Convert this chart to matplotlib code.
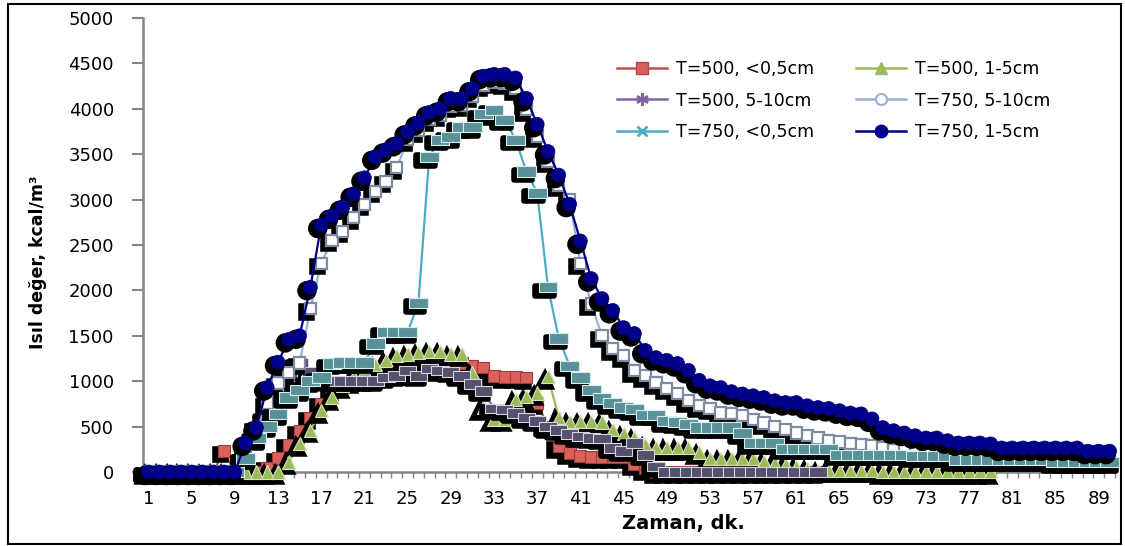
import numpy as np
import matplotlib
matplotlib.use("Agg")
import matplotlib.pyplot as plt
import matplotlib.patheffects as pe
from matplotlib.lines import Line2D
from matplotlib.patches import Rectangle
from matplotlib.path import Path

# time axis, minutes 1..90
minutes = np.arange(1, 91)

# values (kcal/m3); shorter series stop early
t500_05 = [0, 0, 0, 0, 0, 0, 0, 230, 0, 0,
           0, 50, 150, 300, 450, 600, 750, 850, 950, 1000,
           1050, 1100, 1140, 1150, 1130, 1140, 1180, 1190, 1220, 1200,
           1170, 1150, 1060, 1050, 1045, 1040, 760, 500, 280, 210,
           175, 165, 165, 165, 165, 90, 40, 0, 0, 0,
           0, 0, 0, 0, 0, 0, 0, 0, 0, 0,
           0, 0, 0]
t500_15 = [0, 0, 0, 0, 0, 0, 0, 0, 0, 0,
           0, 0, 0, 110, 310, 460, 675, 820, 950, 1050,
           1120, 1180, 1230, 1280, 1300, 1320, 1330, 1330, 1300, 1300,
           1100, 710, 580, 580, 800, 830, 870, 1050, 600, 560,
           560, 560, 550, 470, 420, 380, 300, 270, 270, 270,
           270, 220, 150, 150, 150, 150, 150, 120, 100, 80,
           60, 40, 20, 20, 20, 20, 20, 20, 5, 5,
           5, 5, 5, 5, 5, 5, 5, 5, 5]
t500_510 = [0, 0, 0, 0, 0, 0, 0, 0, 0, 150,
            350, 600, 850, 1050, 1200, 1100, 1050, 1000, 1000, 1000,
            1000, 1000, 1040, 1060, 1120, 1060, 1140, 1120, 1100, 1060,
            970, 890, 700, 690, 650, 600, 560, 500, 460, 420,
            390, 375, 370, 265, 230, 320, 190, 60, 0, 0,
            0, 0, 0, 0, 0, 0, 0, 0, 0, 0,
            0, 0, 0]
t750_510 = [0, 0, 0, 0, 0, 0, 0, 0, 0, 280,
            480, 760, 980, 1100, 1200, 1800, 2300, 2550, 2650, 2800,
            2950, 3090, 3200, 3350, 3660, 3760, 3880, 3930, 4030, 4040,
            4140, 4260, 4290, 4280, 4220, 3990, 3700, 3420, 3160, 3000,
            2300, 1850, 1500, 1360, 1280, 1115, 1060, 985, 920, 860,
            785, 730, 700, 650, 640, 620, 580, 540, 500, 470,
            430, 400, 375, 350, 330, 310, 300, 290, 270, 250,
            240, 230, 220, 210, 200, 190, 180, 170, 165, 160,
            160, 160, 160, 160, 160, 160, 160, 160, 160, 160]
t750_05 = [0, 0, 0, 0, 0, 0, 0, 0, 0, 150,
           375, 500, 640, 820, 900, 1000, 1040, 1195, 1205, 1205,
           1205, 1415, 1540, 1540, 1540, 1860, 3470, 3660, 3690, 3800,
           3800, 3940, 3990, 3880, 3660, 3310, 3075, 2035, 1470, 1170,
           1040, 900, 810, 760, 710, 695, 630, 630, 560, 550,
           530, 490, 490, 490, 490, 430, 320, 320, 320, 255,
           255, 255, 255, 255, 190, 190, 190, 190, 190, 190,
           190, 175, 175, 175, 175, 130, 130, 130, 130, 130,
           130, 130, 130, 130, 110, 110, 110, 110, 110, 110]
t750_15 = [0, 0, 0, 0, 0, 0, 0, 0, 0, 320,
           490, 930, 1210, 1460, 1500, 2035, 2720, 2820, 2920, 3064,
           3240, 3470, 3550, 3620, 3750, 3850, 3960, 4000, 4115, 4115,
           4225, 4360, 4380, 4380, 4340, 4115, 3830, 3530, 3270, 2950,
           2545, 2130, 1910, 1780, 1590, 1525, 1340, 1260, 1230, 1195,
           1120, 1010, 950, 930, 885, 860, 840, 820, 785, 765,
           765, 730, 710, 700, 675, 650, 640, 585, 490, 455,
           430, 400, 375, 375, 345, 320, 320, 320, 310, 265,
           265, 265, 265, 265, 265, 265, 265, 230, 230, 230]

labels = ["T=500, <0,5cm", "T=500, 1-5cm", "T=500, 5-10cm",
          "T=750, 5-10cm", "T=750, <0,5cm", "T=750, 1-5cm"]


def pad(vals):
    return np.array(list(vals) + [np.nan] * (90 - len(vals)), dtype=float)


series = [pad(t500_05), pad(t500_15), pad(t500_510),
          pad(t750_510), pad(t750_05), pad(t750_15)]

rect = Path([(-1, -0.55), (1, -0.55), (1, 0.55), (-1, 0.55), (-1, -0.55)],
            [Path.MOVETO, Path.LINETO, Path.LINETO, Path.LINETO, Path.CLOSEPOLY])

line_colors = ["#C0504D", "#9BBB59", "#8064A2", "#95B3D7", "#4BACC6", "#00008B"]
# how the markers look on the chart (with the heavy excel shadow)
plot_marks = [
    dict(marker="s", ms=8.5, mfc="#D9605B", mec="#A33C38", mew=0.8),
    dict(marker="^", ms=9.5, mfc="#9BBB59", mec="#D7E4BD", mew=0.8),
    dict(marker=rect, ms=12.5, mfc="#55506B", mec="#D9D2E6", mew=0.8),
    dict(marker="s", ms=8, mfc="white", mec="#7E8AA2", mew=1.6),
    dict(marker=rect, ms=13.5, mfc="#5A9198", mec="#D2EEF3", mew=0.8),
    dict(marker="o", ms=10, mfc="#00008B", mec="#00008B", mew=0.5),
]
# how the markers look in the legend
legend_marks = [
    dict(marker="s", ms=8, mfc="#D9605B", mec="#B04A46"),
    dict(marker="^", ms=9, mfc="#9BBB59", mec="#9BBB59"),
    dict(marker=(6, 2, 0), ms=9, mec="#8064A2", mew=1.8),
    dict(marker="o", ms=8, mfc="white", mec="#95B3D7", mew=1.5),
    dict(marker="x", ms=7, mec="#4BACC6", mew=2),
    dict(marker="o", ms=9, mfc="#00008B", mec="#00008B"),
]

shadow = [pe.SimplePatchShadow(offset=(-2.5, -2.5), shadow_rgbFace="black", alpha=1.0,
                               linewidth=4, foreground="black"),
          pe.Normal()]

fig = plt.figure(figsize=(11.25, 5.46), dpi=100)
ax = fig.add_axes([143 / 1125, 1 - 472 / 546, (1115 - 143) / 1125, (472 - 18) / 546])

for k, vals in enumerate(series):
    ax.plot(minutes, vals, color=line_colors[k], lw=1.6, zorder=3 + 2 * k)
    ax.plot(minutes, vals, ls="none", zorder=4 + 2 * k, clip_on=False,
            path_effects=shadow, **plot_marks[k])

ax.set_xlim(0.5, 90.5)
ax.set_ylim(0, 5000)
ax.set_xticks(range(1, 91, 4))
ax.set_xticks(np.arange(0.5, 91, 1), minor=True)
ax.set_yticks(range(0, 5001, 500))
ax.tick_params(axis="x", which="major", length=0, pad=13, labelsize=13)
ax.tick_params(axis="x", which="minor", length=4, width=1, color="#868686")
ax.tick_params(axis="y", length=8, width=1.5, color="#868686", pad=13, labelsize=13)

for s in ["top", "right"]:
    ax.spines[s].set_visible(False)
for s in ["left", "bottom"]:
    ax.spines[s].set_color("#868686")
    ax.spines[s].set_linewidth(1.8)

handles = []
for k in range(6):
    handles.append(Line2D([], [], color=line_colors[k], lw=1.8, **legend_marks[k]))
order = [0, 2, 4, 1, 3, 5]
ax.legend([handles[i] for i in order], [labels[i] for i in order], ncol=2,
          loc="upper left", bbox_to_anchor=(617 / 1125, 1 - 60 / 546),
          bbox_transform=fig.transFigure, frameon=False, fontsize=12.5,
          borderpad=0, borderaxespad=0, handlelength=2.9, handletextpad=0.5,
          columnspacing=2.4, labelspacing=0.78)

fig.text(38 / 1125, 1 - 262 / 546, "Isıl değer, kcal/m³", rotation=90,
         ha="center", va="center", fontweight="bold", fontsize=12.5,
         family=["Liberation Sans Narrow", "DejaVu Sans"])
fig.text(683 / 1125, 1 - 523 / 546, "Zaman, dk.", ha="center", va="center",
         fontweight="bold", fontsize=14)

fig.patches.append(Rectangle((8 / 1125, 2 / 546), 1113 / 1125, 540 / 546,
                             transform=fig.transFigure, fill=False,
                             edgecolor="black", lw=1.5))

fig.savefig("out.png", dpi=100)
